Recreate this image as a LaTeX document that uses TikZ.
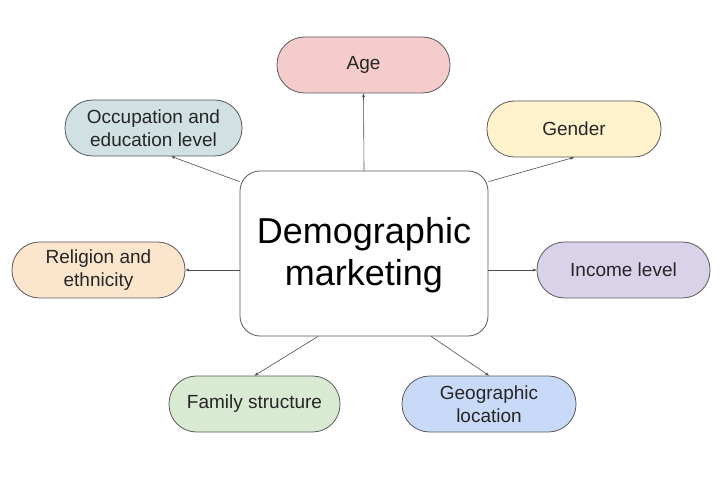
\documentclass[tikz,border=0pt]{standalone}
\usepackage{fontspec}
\setmainfont{Liberation Sans}
\usepackage{xcolor}
\usetikzlibrary{arrows.meta}
\definecolor{agepink}{HTML}{F4CCCC}
\definecolor{jobteal}{HTML}{D0E0E3}
\definecolor{genderyellow}{HTML}{FFF2CC}
\definecolor{faithpeach}{HTML}{FCE5CD}
\definecolor{incomelilac}{HTML}{D9D2E9}
\definecolor{familygreen}{HTML}{D9EAD3}
\definecolor{placeblue}{HTML}{C9DAF8}
\definecolor{edgegray}{HTML}{595959}

\begin{document}
\begin{tikzpicture}[x=1pt, y=-1pt,
    pill/.style={draw=edgegray, line width=0.8pt, rounded corners=27.5pt, minimum width=173pt, minimum height=56pt, align=center, text=black!85, font=\fontsize{19}{23}\selectfont, inner sep=2pt},
    link/.style={draw=black!70, line width=0.6pt, -{Stealth[length=4pt, width=3pt]}}]
    \useasboundingbox (0,0) rectangle (720,486);
    % hub
    \node[draw=edgegray, line width=0.8pt, fill=white, rounded corners=20pt, minimum width=248pt, minimum height=165pt, align=center, font=\fontsize{36}{42}\selectfont]
        (hub) at (364, 253.5) {\rule{0pt}{30pt}Demographic\\marketing};
    % categories
    \node[pill, fill=agepink] (age) at (363.5, 65) {Age};
    \node[pill, fill=jobteal, minimum width=177pt] (job) at (153.5, 128) {Occupation and\\education level};
    \node[pill, fill=genderyellow, minimum width=174pt] (gender) at (574, 129) {Gender};
    \node[pill, fill=faithpeach] (faith) at (98.5, 270) {Religion and\\ethnicity};
    \node[pill, fill=incomelilac] (income) at (623.5, 270) {Income level};
    \node[pill, fill=familygreen, minimum width=171pt] (family) at (254.5, 404) {Family structure};
    \node[pill, fill=placeblue, minimum width=174pt] (place) at (489, 404) {Geographic\\location};
    % links
    \draw[link] (hub.north) -- (age.south);
    \draw[link] (hub.150) -- (job.-58);
    \draw[link] (hub.30) -- (gender.south);
    \draw[link] (hub.west |- faith.east) -- (faith.east);
    \draw[link] (hub.east |- income.west) -- (income.west);
    \draw[link] (hub.-119) -- (family.north);
    \draw[link] (hub.-51) -- (place.north);
\end{tikzpicture}
\end{document}
